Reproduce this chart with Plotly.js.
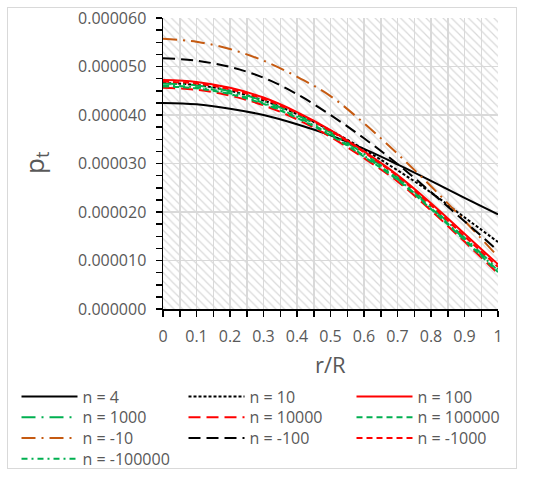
<!DOCTYPE html>
<html>
<head>
<meta charset="utf-8">
<script src="https://cdn.plot.ly/plotly-3.0.1.min.js"></script>
<style>
  html, body { margin: 0; padding: 0; background: #fff; }
  #wrap { position: relative; width: 540px; height: 480px; }
  #chart { width: 540px; height: 480px; }
  #frame { position: absolute; left: 7px; top: 7px; width: 508px; height: 460px;
           border: 1px solid #d9d9d9; pointer-events: none; }
</style>
</head>
<body>
<div id="wrap">
  <div id="chart"></div>
  <div id="frame"></div>
</div>
<script>
// radial position r/R
const rR = [0, 0.1, 0.2, 0.3, 0.4, 0.5, 0.6, 0.7, 0.8, 0.9, 1.0];

// p_t values, in units of 1e-6
const UNIT = 1e-6;
const p_n4       = [42.5, 42.2, 41.3, 40.0, 38.1, 35.8, 33.0, 29.8, 26.4, 22.9, 19.5];
const p_n10      = [46.6, 46.2, 45.0, 43.0, 40.2, 36.8, 32.9, 28.6, 24.0, 18.9, 13.8];
const p_n100     = [47.2, 46.8, 45.6, 43.6, 40.6, 36.9, 32.5, 27.6, 21.8, 15.5, 9.2];
const p_n1000    = [46.5, 46.1, 44.9, 42.9, 40.0, 36.4, 32.0, 27.1, 21.1, 14.7, 8.2];
const p_n10000   = [45.6, 45.2, 44.0, 42.0, 39.1, 35.5, 31.1, 26.3, 20.3, 13.9, 7.3];
const p_n100000  = [45.9, 45.5, 44.3, 42.3, 39.4, 35.8, 31.4, 26.6, 20.6, 14.2, 7.6];
const p_nm10     = [55.7, 55.1, 53.6, 51.2, 47.9, 43.9, 38.3, 32.0, 25.3, 18.2, 10.8];
const p_nm100    = [51.7, 51.2, 49.9, 47.7, 44.3, 40.0, 35.2, 29.9, 24.1, 18.1, 12.0];
const p_nm1000   = [46.9, 46.5, 45.3, 43.3, 40.4, 36.7, 32.3, 27.4, 21.4, 15.0, 8.7];
const p_nm100000 = [46.1, 45.7, 44.5, 42.5, 39.6, 36.0, 31.6, 26.8, 20.8, 14.4, 7.9];

const seriesNames = ['n = 4', 'n = 10', 'n = 100', 'n = 1000', 'n = 10000', 'n = 100000',
                     'n = -10', 'n = -100', 'n = -1000', 'n = -100000'];
const seriesData  = [p_n4, p_n10, p_n100, p_n1000, p_n10000, p_n100000,
                     p_nm10, p_nm100, p_nm1000, p_nm100000];

// line styles for each series
const BLACK = '#000000', RED = '#ff0000', GREEN = '#00b050', ORANGE = '#c55a11';
const styles = [
  { color: BLACK,  dash: 'solid' },
  { color: BLACK,  dash: '3px,2px' },
  { color: RED,    dash: 'solid' },
  { color: GREEN,  dash: '14px,6px,2px,6px' },
  { color: RED,    dash: '12px,6px' },
  { color: GREEN,  dash: '6px,4px' },
  { color: ORANGE, dash: '14px,6px,2px,6px' },
  { color: BLACK,  dash: '12px,6px' },
  { color: RED,    dash: '6px,4px' },
  { color: GREEN,  dash: '6px,4px,2px,4px' }
];

const X_RANGE = [0, 1];
const Y_RANGE = [0, 60 * UNIT];

const FONT = 'Open Sans, Liberation Sans, sans-serif';
const TXT = '#595959';

// page geometry (pixels)
const W = 540, H = 480;
const M = { l: 163, r: 42, t: 18, b: 171 };
const PLOT_W = W - M.l - M.r, PLOT_H = H - M.t - M.b;

// legend grid: three columns, rows filled left to right (pixel positions)
const LEG_COLS = [16.5, 183.5, 351.5];
const LEG_ROWS = [395.5, 416.3, 437.1, 457.9];

const traces = [];

// hatched plot-area background
traces.push({
  type: 'scatter', mode: 'none',
  x: [X_RANGE[0], X_RANGE[1], X_RANGE[1], X_RANGE[0], X_RANGE[0]],
  y: [Y_RANGE[0], Y_RANGE[0], Y_RANGE[1], Y_RANGE[1], Y_RANGE[0]],
  fill: 'toself',
  fillcolor: 'rgba(0,0,0,0)',
  fillpattern: { shape: '\\', size: 6, solidity: 0.2,
                 fgcolor: '#d9d9d9', bgcolor: 'rgba(0,0,0,0)' },
  showlegend: false, hoverinfo: 'skip'
});

const layout = {
  width: W, height: H,
  margin: { l: M.l, r: M.r, t: M.t, b: M.b, autoexpand: false },
  paper_bgcolor: '#ffffff',
  plot_bgcolor: '#ffffff',
  font: { family: FONT, size: 16, color: TXT },
  showlegend: true,
  xaxis: {
    range: X_RANGE, dtick: 0.1, tick0: 0,
    showline: true, linecolor: '#000', linewidth: 1.5,
    ticks: 'outside', ticklen: 6, tickwidth: 1.5, tickcolor: '#000',
    showgrid: true, gridcolor: '#d9d9d9', gridwidth: 1.5,
    zeroline: false,
    minor: { dtick: 0.05, ticks: 'outside', ticklen: 6, tickwidth: 1.5, tickcolor: '#000',
             showgrid: true, gridcolor: '#d9d9d9', gridwidth: 1.5 },
    tickfont: { size: 16, color: TXT },
    ticklabelstandoff: 6
  },
  yaxis: {
    range: Y_RANGE, dtick: 10 * UNIT, tick0: 0, tickformat: '.6f',
    showline: true, linecolor: '#000', linewidth: 1.5,
    ticks: 'outside', ticklen: 6, tickwidth: 1.5, tickcolor: '#000',
    showgrid: true, gridcolor: '#d9d9d9', gridwidth: 1.5,
    zeroline: false,
    minor: { dtick: 2.5 * UNIT, ticks: 'outside', ticklen: 6, tickwidth: 1.5, tickcolor: '#000',
             showgrid: false },
    tickfont: { size: 16, color: TXT },
    ticklabelstandoff: 6
  },
  // axis titles
  annotations: [
    { text: 'r/R', xref: 'paper', yref: 'paper',
      x: 0.5, y: -(364 - M.t - PLOT_H) / PLOT_H,
      xanchor: 'center', yanchor: 'middle', showarrow: false,
      font: { size: 22, color: TXT } },
    { text: 'p<sub>t</sub>', xref: 'paper', yref: 'paper',
      x: (35 - M.l) / PLOT_W, y: 1 - (163 - M.t) / PLOT_H,
      xanchor: 'center', yanchor: 'middle', textangle: -90, showarrow: false,
      font: { size: 26, color: TXT } }
  ]
};

seriesData.forEach((vals, i) => {
  const legId = i === 0 ? 'legend' : 'legend' + (i + 1);
  traces.push({
    type: 'scatter', mode: 'lines',
    name: seriesNames[i],
    legend: legId,
    x: rR,
    y: vals.map(v => v * UNIT),
    line: { color: styles[i].color, dash: styles[i].dash, width: 2,
            shape: 'spline', smoothing: 1 }
  });
  // one legend entry per grid cell
  const col = LEG_COLS[i % 3];
  const row = LEG_ROWS[Math.floor(i / 3)];
  layout[legId] = {
    orientation: 'v',
    xref: 'container', yref: 'container',
    x: col / W, y: 1 - (row - 16) / H,
    xanchor: 'left', yanchor: 'top',
    itemwidth: 56,
    font: { size: 16, color: TXT },
    bgcolor: 'rgba(0,0,0,0)',
    borderwidth: 0
  };
});

Plotly.newPlot('chart', traces, layout, { displayModeBar: false, staticPlot: true });
</script>
</body>
</html>
